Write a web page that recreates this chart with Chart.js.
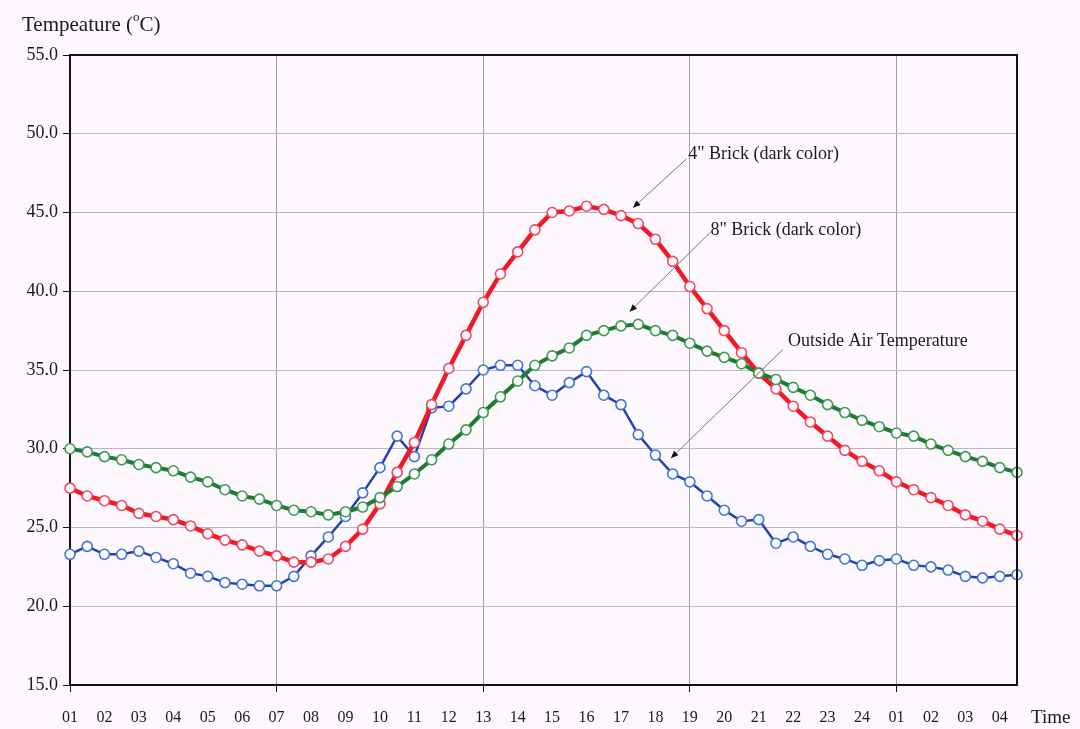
<!DOCTYPE html>
<html>
<head>
<meta charset="utf-8">
<script src="https://cdn.jsdelivr.net/npm/chart.js@4.4.0/dist/chart.umd.min.js"></script>
<style>
  html, body { margin: 0; padding: 0; background: #fdf8fd; }
  #wrap { width: 1080px; height: 729px; }
</style>
</head>
<body>
<div id="wrap"><canvas id="chart" width="1080" height="729"></canvas></div>
<script>
// hour ticks along the x axis (two readings per hour)
const hourLabels = ['01','02','03','04','05','06','07','08','09','10','11','12',
  '13','14','15','16','17','18','19','20','21','22','23','24','01','02','03','04'];
const timeLabels = hourLabels.flatMap(h => [h + ':00', h + ':30']);

// temperatures, deg C, every half hour
const brick4 = [27.5,27.0,26.7,26.4,25.9,25.7,25.5,25.1,24.6,24.2,23.9,23.5,23.2,22.8,
  22.8,23.0,23.8,24.9,26.5,28.5,30.4,32.8,35.1,37.2,39.3,41.1,42.5,43.9,45.0,45.1,
  45.4,45.2,44.8,44.3,43.3,41.9,40.3,38.9,37.5,36.1,34.8,33.8,32.7,31.7,30.8,29.9,
  29.2,28.6,27.9,27.4,26.9,26.4,25.8,25.4,24.9,24.5];
const brick8 = [30.0,29.8,29.5,29.3,29.0,28.8,28.6,28.2,27.9,27.4,27.0,26.8,26.4,26.1,
  26.0,25.8,26.0,26.3,26.9,27.6,28.4,29.3,30.3,31.2,32.3,33.3,34.3,35.3,35.9,36.4,
  37.2,37.5,37.8,37.9,37.5,37.2,36.7,36.2,35.8,35.4,34.8,34.4,33.9,33.4,32.8,32.3,
  31.8,31.4,31.0,30.8,30.3,29.9,29.5,29.2,28.8,28.5];
const outsideAir = [23.3,23.8,23.3,23.3,23.5,23.1,22.7,22.1,21.9,21.5,21.4,21.3,21.3,21.9,
  23.2,24.4,25.7,27.2,28.8,30.8,29.5,32.6,32.7,33.8,35.0,35.3,35.3,34.0,33.4,34.2,
  34.9,33.4,32.8,30.9,29.6,28.4,27.9,27.0,26.1,25.4,25.5,24.0,24.4,23.8,23.3,23.0,
  22.6,22.9,23.0,22.6,22.5,22.3,21.9,21.8,21.9,22.0];

// callouts: text anchor and arrow tip in data units (x = half-hour index)
const callouts = [
  { text: '4" Brick (dark color)', tx: 35.9, ty: 48.7, sx: 35.8, sy: 48.4, ax: 32.7, ay: 45.3 },
  { text: '8" Brick (dark color)', tx: 37.2, ty: 43.85, sx: 37.2, sy: 43.75, ax: 32.5, ay: 38.7 },
  { text: 'Outside Air Temperature', tx: 41.7, ty: 36.8, sx: 41.4, sy: 36.3, ax: 34.9, ay: 29.4 }
];

const BG = '#fdf8fd';
const INK = '#1a1a1a';
const SERIF = "'Liberation Serif', 'Times New Roman', serif";
Chart.defaults.font.family = SERIF;

function lineSet(label, data, line, ring, width) {
  return {
    label: label, data: data,
    borderColor: line, borderWidth: width, tension: 0,
    pointRadius: 5, pointBorderWidth: 1.6,
    pointBackgroundColor: BG, pointBorderColor: ring
  };
}

const decor = {
  id: 'decor',
  beforeDraw(chart) {
    const c = chart.ctx;
    c.save();
    c.fillStyle = BG;
    c.fillRect(0, 0, chart.width, chart.height);
    c.restore();
  },
  afterDraw(chart) {
    const c = chart.ctx, a = chart.chartArea;
    const xs = chart.scales.x, ys = chart.scales.y;
    c.save();
    // top and right frame
    c.strokeStyle = '#111';
    c.lineWidth = 2;
    c.beginPath();
    c.moveTo(a.left, a.top); c.lineTo(a.right, a.top); c.lineTo(a.right, a.bottom);
    c.stroke();

    // y title with superscript o
    c.fillStyle = INK;
    c.textBaseline = 'middle';
    c.font = '21px ' + SERIF;
    let x = 22;
    c.fillText('Tempeature (', x, 25);
    x += c.measureText('Tempeature (').width;
    c.font = '13px ' + SERIF;
    c.fillText('o', x, 18);
    x += c.measureText('o').width;
    c.font = '21px ' + SERIF;
    c.fillText('C)', x, 25);

    // x title
    c.font = '19px ' + SERIF;
    c.fillText('Time', 1031, 718);

    // callouts
    c.font = '18px ' + SERIF;
    callouts.forEach(o => {
      c.fillStyle = INK;
      c.fillText(o.text, xs.getPixelForValue(o.tx), ys.getPixelForValue(o.ty));
      const x0 = xs.getPixelForValue(o.sx), y0 = ys.getPixelForValue(o.sy);
      const x1 = xs.getPixelForValue(o.ax), y1 = ys.getPixelForValue(o.ay);
      c.strokeStyle = '#777';
      c.lineWidth = 1;
      c.beginPath(); c.moveTo(x0, y0); c.lineTo(x1, y1); c.stroke();
      const ang = Math.atan2(y1 - y0, x1 - x0);
      c.fillStyle = '#111';
      c.beginPath();
      c.moveTo(x1, y1);
      c.lineTo(x1 - 8 * Math.cos(ang - 0.4), y1 - 8 * Math.sin(ang - 0.4));
      c.lineTo(x1 - 8 * Math.cos(ang + 0.4), y1 - 8 * Math.sin(ang + 0.4));
      c.closePath();
      c.fill();
    });
    c.restore();
  }
};

new Chart(document.getElementById('chart'), {
  type: 'line',
  data: {
    labels: timeLabels,
    datasets: [
      lineSet('8" Brick (dark color)', brick8, '#1f7a33', '#3f9a52', 4),
      lineSet('4" Brick (dark color)', brick4, '#f01a26', '#ef4a62', 4.5),
      lineSet('Outside Air Temperature', outsideAir, '#2642a8', '#3f78d0', 2.5)
    ]
  },
  options: {
    responsive: false,
    animation: false,
    devicePixelRatio: 1,
    layout: { padding: { left: 0, top: 55, right: 63, bottom: 0 } },
    plugins: { legend: { display: false }, tooltip: { enabled: false } },
    scales: {
      x: {
        type: 'category',
        offset: false,
        border: { color: '#111', width: 2 },
        grid: {
          color: ctx => ctx.index % 12 === 0 ? '#a0a0a0' : 'transparent',
          tickColor: ctx => ctx.index % 12 === 0 ? '#111' : 'transparent',
          tickLength: 7,
          lineWidth: 1
        },
        ticks: {
          autoSkip: false, maxRotation: 0, minRotation: 0,
          padding: 16,
          color: INK,
          font: { size: 16 },
          callback: (v, i) => i % 2 === 0 ? hourLabels[i / 2] : ''
        },
        afterFit: s => { s.height = 44; }
      },
      y: {
        min: 15, max: 55,
        border: { color: '#111', width: 2 },
        grid: { color: '#bdb2cc', tickColor: '#111', tickLength: 7, lineWidth: 1 },
        ticks: {
          stepSize: 5, padding: 5, color: INK,
          font: { size: 18 },
          callback: v => v.toFixed(1)
        },
        afterFit: s => { s.width = 70; }
      }
    }
  },
  plugins: [decor]
});
</script>
</body>
</html>
